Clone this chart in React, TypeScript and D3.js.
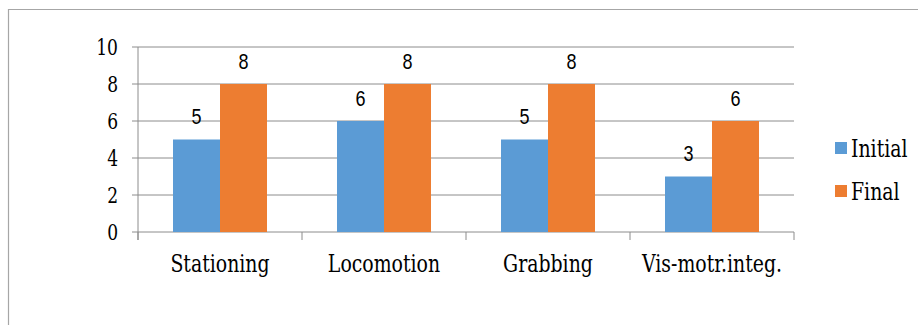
import React from "react";
import * as d3 from "d3";

const categories = ["Stationing", "Locomotion", "Grabbing", "Vis-motr.integ."];
const seriesNames = ["Initial", "Final"];
const initialValues = [5, 6, 5, 3];
const finalValues = [8, 8, 8, 6];
const yTicks = [0, 2, 4, 6, 8, 10];
const seriesColors = ["#5B9BD5", "#ED7D31"];

const W = 918;
const H = 325;
const plot = { left: 138, right: 794, top: 47, bottom: 232 };
const serif = "DejaVu Serif Condensed, DejaVu Serif";
const sans = "Liberation Sans, Arial, sans-serif";
const stretch = 1.18;
const serifStyle = (size: number) => ({ fontFamily: serif, fontSize: size, fontStretch: "condensed" as const });

export default function App() {
  const x = d3.scaleBand<string>().domain(categories).range([plot.left, plot.right]);
  const x1 = d3
    .scaleBand<string>()
    .domain(seriesNames)
    .range([0, x.bandwidth()])
    .paddingOuter(0.745)
    .paddingInner(0);
  const y = d3.scaleLinear().domain([0, 10]).range([plot.bottom, plot.top]);
  const values = [initialValues, finalValues];
  const grid = "#8c8c8c";

  const catTicks = [...categories.map((c) => x(c)!), plot.right];

  return (
    <svg
      width={W}
      height={H}
      style={{ position: "absolute", left: 0, top: 0, display: "block", background: "#fff" }}
    >
      {/* outer chart frame */}
      <line x1={8} x2={W} y1={9.5} y2={9.5} stroke="#a6a6a6" strokeWidth={1.2} />
      <line x1={8.5} x2={8.5} y1={9} y2={H} stroke="#a6a6a6" strokeWidth={1.2} />

      {/* gridlines and y ticks */}
      {yTicks.map((t) => (
        <g key={t}>
          <line x1={plot.left - 6} x2={plot.right} y1={y(t)} y2={y(t)} stroke={grid} strokeWidth={1} />
          <text
            transform={`translate(${plot.left - 20},${y(t)}) scale(1,${stretch})`}
            textAnchor="end"
            dy="0.36em"
            style={serifStyle(19)}
            fill="#000"
          >
            {t}
          </text>
        </g>
      ))}
      <line x1={plot.left} x2={plot.left} y1={plot.top} y2={plot.bottom + 8} stroke={grid} strokeWidth={1} />
      {catTicks.map((cx, i) => (
        <line key={i} x1={cx} x2={cx} y1={plot.bottom} y2={plot.bottom + 8} stroke={grid} strokeWidth={1} />
      ))}

      {/* bars */}
      {categories.map((c, ci) =>
        seriesNames.map((s, si) => {
          const v = values[si][ci];
          const bx = x(c)! + x1(s)!;
          const bw = x1.bandwidth();
          return (
            <g key={c + s}>
              <rect x={bx} y={y(v)} width={bw} height={y(0) - y(v)} fill={seriesColors[si]} />
              <text
                transform={`translate(${bx + bw / 2},${y(v) - 15.5}) scale(1,${stretch})`}
                textAnchor="middle"
                style={{ fontFamily: sans, fontSize: 18 }}
                fill="#000"
              >
                {v}
              </text>
            </g>
          );
        })
      )}

      {/* category labels */}
      {categories.map((c) => (
        <text
          key={c}
          transform={`translate(${x(c)! + x.bandwidth() / 2},272) scale(1,${stretch})`}
          textAnchor="middle"
          style={serifStyle(21)}
          fill="#000"
        >
          {c}
        </text>
      ))}

      {/* legend */}
      {seriesNames.map((s, i) => (
        <g key={s} transform={`translate(835,${142 + i * 43})`}>
          <rect x={0} y={0} width={12} height={12} fill={seriesColors[i]} />
          <text
            transform={`translate(16,14.5) scale(1,${stretch})`}
            style={serifStyle(21)}
            fill="#000"
          >
            {s}
          </text>
        </g>
      ))}
    </svg>
  );
}
